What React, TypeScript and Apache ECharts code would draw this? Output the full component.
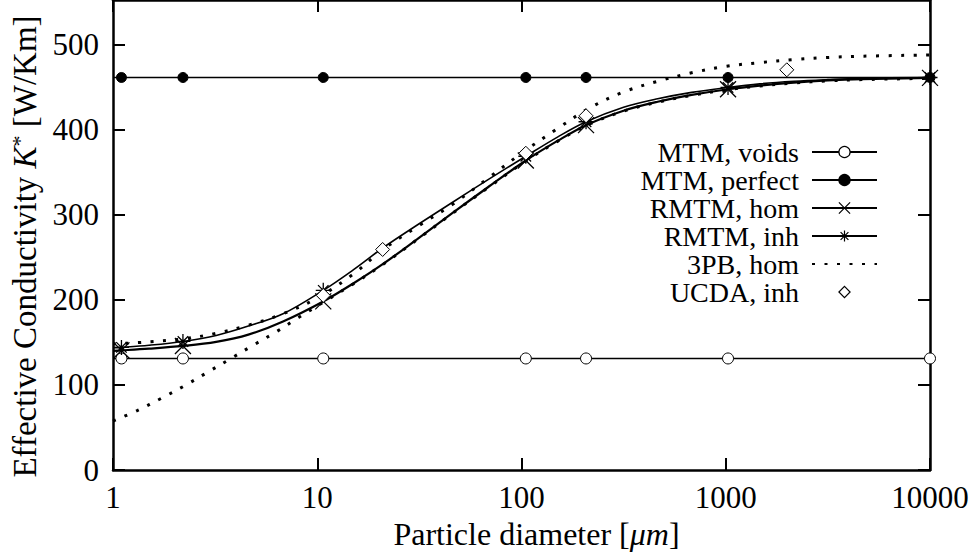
import React, { useEffect, useRef } from "react";
import * as echarts from "echarts";

const FONT = "Liberation Serif";

// axis ranges / ticks
const xRange = [1, 10000];
const yRange = [0, 552];
const yStep = 100;

const mtmX = [1, 1.1, 2.2, 10.7, 105, 207, 1026, 10000];
const mtmVoidsY = [131, 131, 131, 131, 131, 131, 131, 131];
const mtmPerfectY = [461, 461, 461, 461, 461, 461, 461, 461];

const rmtmX = [1, 1.1, 1.5, 2.2, 3.2, 4.6, 6.8, 10.7, 15, 21, 31, 46, 68, 105, 150, 207, 316, 464, 681, 1026, 1468, 2154, 3162, 4642, 10000];
const rmtmInhY = [143.5, 144, 146.5, 151, 158, 169, 183.5, 211, 235, 261, 288, 314.5, 340.5, 368.5, 391, 409, 426, 436, 443.5, 449.3, 453.5, 456.5, 458.5, 460, 461];
const rmtmHomY = [140, 140.5, 142.5, 145.7, 150.5, 159, 174.5, 198, 219, 242, 271.5, 302, 331.5, 363.5, 386.5, 405, 422, 432.5, 440.5, 447.2, 451.5, 455, 457.5, 459, 460.5];

// x positions of the drawn markers
const markerX = [1.1, 2.2, 10.7, 105, 207, 1026, 10000];

const pb3UpperX = [1, 1.5, 2.2, 3.2, 4.6, 6.8, 10, 15, 21, 31, 46, 68, 100, 150, 215, 316, 464, 681, 1000, 1468, 2154, 3162, 4642, 10000];
const pb3UpperY = [148, 150.5, 154, 160.5, 170, 183.5, 202, 230, 259, 286, 312, 342, 372, 401, 425, 444, 456.5, 466.5, 474, 478.5, 482, 484.5, 486, 487.5];

const pb3LowerX = [1, 1.32, 1.73, 2.25, 2.9, 3.78, 4.86, 6.27, 8.09, 10.7, 15, 21, 31, 46, 68, 105, 150, 207, 316, 464, 681, 1026, 1468, 2154, 3162, 4642, 10000];
const pb3LowerY = [57.5, 70, 84.4, 99.2, 114.7, 131, 146.6, 162, 179, 197, 218.5, 241.5, 271, 301.5, 331, 363, 386, 404.5, 421.5, 432, 440, 446.7, 451, 454.5, 457, 458.5, 460];

const ucdaX = [10.7, 20.9, 105, 207, 1990];
const ucdaY = [205, 259, 372, 416, 470];

const seriesNames = ["MTM, voids", "MTM, perfect", "RMTM, hom", "RMTM, inh", "3PB, hom", "UCDA, inh"];

const X_PATH = "path://M0,0L10,10M10,0L0,10";
const STAR_PATH = "path://M5,0L5,10M0,5L10,5M1.5,1.5L8.5,8.5M8.5,1.5L1.5,8.5";

const markerSet = new Set(markerX);
function withMarkers(xs: number[], ys: number[]) {
  return xs.map((x, i) => (markerSet.has(x) ? [x, ys[i]] : { value: [x, ys[i]], symbol: "none" }));
}
function plain(xs: number[], ys: number[]) {
  return xs.map((x, i) => [x, ys[i]]);
}

const axisLine = { show: true, onZero: false, lineStyle: { color: "#000", width: 2.5 } };
const axisTick = { show: true, inside: true, length: 12, lineStyle: { color: "#000", width: 2 } };
const tickLabel = { fontFamily: FONT, fontSize: 31, color: "#000" };

export default function App() {
  const ref = useRef<HTMLDivElement>(null);
  useEffect(() => {
    const chart = echarts.init(ref.current!, undefined, { renderer: "svg" });
    const option: any = {
      animation: false,
      backgroundColor: "#fff",
      textStyle: { fontFamily: FONT },
      grid: { left: 112, right: 42, top: -3, bottom: 87, containLabel: false },
      legend: {
        orient: "vertical",
        right: 94,
        top: 138,
        align: "right",
        padding: 0,
        itemGap: 0,
        itemWidth: 65,
        itemHeight: 14,
        selectedMode: false,
        textStyle: { fontFamily: FONT, fontSize: 28, color: "#000", padding: [0, 8, 0, 0] },
        itemStyle: { borderWidth: 1.2 },
        data: seriesNames.map((n) => (n === "3PB, hom" ? { name: n, itemStyle: { opacity: 0 } } : n)),
      },
      xAxis: [
        {
          type: "log",
          logBase: 10,
          min: xRange[0],
          max: xRange[1],
          position: "bottom",
          axisLine,
          axisTick,
          minorTick: { show: false },
          splitLine: { show: false },
          axisLabel: { ...tickLabel, margin: 12, formatter: (v: number) => String(Math.round(v)) },
          name: "{n|Particle diameter [}{i|μm}{n|]}",
          nameLocation: "middle",
          nameGap: 44,
          nameTextStyle: {
            fontFamily: FONT,
            fontSize: 32,
            color: "#000",
            padding: [0, 0, 0, 30],
            rich: {
              n: { fontFamily: FONT, fontSize: 32, color: "#000" },
              i: { fontFamily: FONT, fontSize: 32, fontStyle: "italic", color: "#000" },
            },
          },
        },
        {
          type: "log",
          logBase: 10,
          min: xRange[0],
          max: xRange[1],
          position: "top",
          axisLine,
          axisTick,
          minorTick: { show: false },
          splitLine: { show: false },
          axisLabel: { show: false },
        },
      ],
      yAxis: [
        {
          type: "value",
          min: yRange[0],
          max: yRange[1],
          interval: yStep,
          position: "left",
          axisLine,
          axisTick,
          splitLine: { show: false },
          axisLabel: { ...tickLabel, margin: 14, showMaxLabel: false },
          name: "{n|Effective Conductivity }{i|K}{s|*}{n| [W/Km]}",
          nameLocation: "middle",
          nameRotate: 90,
          nameGap: 72,
          nameTextStyle: {
            fontFamily: FONT,
            fontSize: 33,
            color: "#000",
            padding: [0, 23, 0, 0],
            rich: {
              n: { fontFamily: FONT, fontSize: 33, color: "#000" },
              i: { fontFamily: FONT, fontSize: 33, fontStyle: "italic", color: "#000" },
              s: { fontFamily: FONT, fontSize: 22, color: "#000", verticalAlign: "top" },
            },
          },
        },
        {
          type: "value",
          min: yRange[0],
          max: yRange[1],
          interval: yStep,
          position: "right",
          axisLine,
          axisTick,
          splitLine: { show: false },
          axisLabel: { show: false },
        },
      ],
      series: [
        {
          name: "MTM, voids",
          type: "line",
          data: withMarkers(mtmX, mtmVoidsY),
          symbol: "circle",
          symbolSize: 11,
          showAllSymbol: true,
          itemStyle: { color: "#fff", borderColor: "#000", borderWidth: 1 },
          lineStyle: { color: "#000", width: 1.6 },
          z: 2,
        },
        {
          name: "MTM, perfect",
          type: "line",
          data: withMarkers(mtmX, mtmPerfectY),
          symbol: "circle",
          symbolSize: 10,
          showAllSymbol: true,
          itemStyle: { color: "#000", borderColor: "#000", borderWidth: 1 },
          lineStyle: { color: "#000", width: 1.6 },
          z: 2,
        },
        {
          name: "RMTM, hom",
          type: "line",
          data: withMarkers(rmtmX, rmtmHomY),
          symbol: X_PATH,
          symbolSize: 16,
          showAllSymbol: true,
          smooth: 0.35,
          itemStyle: { color: "#000", borderColor: "#000", borderWidth: 1.3 },
          lineStyle: { color: "#000", width: 2.2 },
          z: 3,
        },
        {
          name: "RMTM, inh",
          type: "line",
          data: withMarkers(rmtmX, rmtmInhY),
          symbol: STAR_PATH,
          symbolSize: 15,
          showAllSymbol: true,
          smooth: 0.35,
          itemStyle: { color: "#000", borderColor: "#000", borderWidth: 1.3 },
          lineStyle: { color: "#000", width: 1.6 },
          z: 3,
        },
        {
          name: "3PB, hom",
          type: "line",
          data: plain(pb3UpperX, pb3UpperY),
          symbol: "none",
          smooth: 0.35,
          lineStyle: { color: "#000", width: 3, type: [3, 9.5], cap: "butt" },
          z: 4,
        },
        {
          name: "3PB, hom",
          type: "line",
          data: plain(pb3LowerX, pb3LowerY),
          symbol: "none",
          smooth: 0.35,
          lineStyle: { color: "#000", width: 3, type: [3, 9.5], cap: "butt" },
          z: 4,
        },
        {
          name: "UCDA, inh",
          type: "line",
          data: plain(ucdaX, ucdaY),
          symbol: "diamond",
          symbolSize: 14,
          showAllSymbol: true,
          itemStyle: { color: "#fff", borderColor: "#000", borderWidth: 1 },
          lineStyle: { color: "#000", width: 0, opacity: 0 },
          z: 5,
        },
      ],
    };
    chart.setOption(option);
    return () => chart.dispose();
  }, []);
  return (
    <div
      ref={ref}
      style={{ position: "absolute", left: 0, top: 0, width: 972, height: 557, background: "#fff" }}
    />
  );
}
